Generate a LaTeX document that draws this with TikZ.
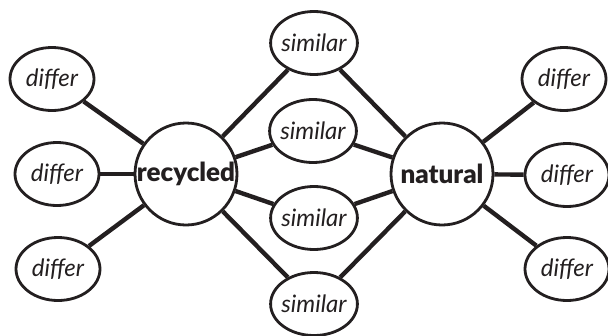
\documentclass[tikz,border=0pt]{standalone}
\usepackage{fontspec}
\usepackage{tikz}
\usetikzlibrary{shapes.geometric}
\newfontfamily\wordfont{Lato}
\newfontfamily\hubfont{Lato Black}
\definecolor{ink}{HTML}{231F20}

\begin{document}
\begin{tikzpicture}[x=1pt, y=-1pt,
    hub/.style={draw=ink, line width=2.8pt, circle, minimum size=102pt, inner sep=0pt, text=ink, font=\hubfont\fontsize{26}{28}\selectfont},
    word/.style={draw=ink, line width=2.8pt, ellipse, minimum width=84pt, minimum height=63pt, inner xsep=-2pt, inner ysep=0pt, text=ink, font=\wordfont\itshape\fontsize{24}{28}\selectfont},
    link/.style={draw=ink, line width=4.4pt}]
    \useasboundingbox (0,0) rectangle (608,335);

    % Central hubs
    \node[hub] (rec) at (186,174) {recycled};
    \node[hub] (nat) at (442,174) {natural};

    % Shared traits in the middle
    \node[word] (s1) at (314,43) {similar};
    \node[word] (s2) at (313,131) {similar};
    \node[word] (s3) at (314,218) {similar};
    \node[word] (s4) at (314,304) {similar};

    % Differences on the left
    \node[word] (l1) at (52,79) {differ};
    \node[word] (l2) at (57,174) {differ};
    \node[word] (l3) at (58,269) {differ};

    % Differences on the right
    \node[word] (r1) at (564,79) {differ};
    \node[word] (r2) at (567,175) {differ};
    \node[word] (r3) at (567,269) {differ};

    % Connectors
    \draw[link] (rec) -- (l1);
    \draw[link] (rec) -- (l2);
    \draw[link] (rec) -- (l3);
    \draw[link] (rec) -- (s1);
    \draw[link] (rec) -- (s2);
    \draw[link] (rec) -- (s3);
    \draw[link] (rec) -- (s4);

    \draw[link] (nat) -- (s1);
    \draw[link] (nat) -- (s2);
    \draw[link] (nat) -- (s3);
    \draw[link] (nat) -- (s4);
    \draw[link] (nat) -- (r1);
    \draw[link] (nat) -- (r2);
    \draw[link] (nat) -- (r3);
\end{tikzpicture}
\end{document}
